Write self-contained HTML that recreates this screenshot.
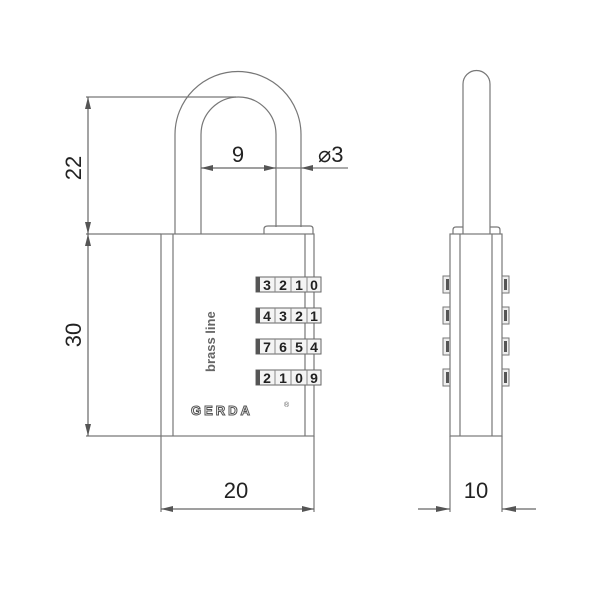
<!DOCTYPE html>
<html><head><style>
html,body{margin:0;padding:0;background:#fff;width:600px;height:600px;overflow:hidden}
svg{display:block}
text{font-family:"Liberation Sans",sans-serif;fill:#222}
</style></head><body>
<svg width="600" height="600" viewBox="0 0 600 600" xmlns="http://www.w3.org/2000/svg">
<defs>
<marker id="a" viewBox="0 0 12 6" refX="12" refY="3" markerWidth="12" markerHeight="6" orient="auto-start-reverse" markerUnits="userSpaceOnUse"><path d="M0,0 L12,3 L0,6 Z" fill="#555"/></marker>
</defs>
<g fill="none" stroke="#777" stroke-width="1.2">
<path d="M175,234 V134.5 A63,63 0 0 1 301,134.5 V227"/>
<path d="M201,234 V134.5 A37.5,37.5 0 0 1 276,134.5 V227"/>
<path d="M264,234 V229 Q264,226 268,226 H310 Q313,226 313,229 V234"/>
<rect x="161" y="234" width="153" height="202"/>
<line x1="173" y1="234" x2="173" y2="436"/>
<line x1="305" y1="234" x2="305" y2="436"/>
<line x1="161" y1="436" x2="161" y2="512"/>
<line x1="314" y1="436" x2="314" y2="512"/>
<line x1="161" y1="509" x2="314" y2="509" marker-start="url(#a)" marker-end="url(#a)" stroke="#666"/>
<line x1="86" y1="97" x2="236" y2="97"/>
<line x1="86" y1="234" x2="161" y2="234"/>
<line x1="86" y1="436" x2="161" y2="436"/>
<line x1="88" y1="97" x2="88" y2="234" marker-start="url(#a)" marker-end="url(#a)" stroke="#666"/>
<line x1="88" y1="234" x2="88" y2="436" marker-start="url(#a)" marker-end="url(#a)" stroke="#666"/>
<line x1="201" y1="168" x2="276" y2="168" marker-start="url(#a)" marker-end="url(#a)" stroke="#666"/>
<line x1="276" y1="168" x2="348" y2="168"/>
<path d="M301,168 L313,165 L313,171 Z" fill="#555" stroke="none"/>
<path d="M463,234 V84 A13.5,13.5 0 0 1 490,84 V234"/>
<path d="M453,234 V230 Q453,227 456,227 H463 M490,227 H497 Q500,227 500,230 V234"/>
<rect x="450" y="234" width="52" height="202"/>
<line x1="460" y1="234" x2="460" y2="436"/>
<line x1="492" y1="234" x2="492" y2="436"/>
<line x1="450" y1="436" x2="450" y2="512"/>
<line x1="502" y1="436" x2="502" y2="512"/>
<line x1="418" y1="509" x2="450" y2="509" stroke="#666"/>
<line x1="502" y1="509" x2="536" y2="509" stroke="#666"/>
<path d="M450,509 L436,506 L436,512 Z M502,509 L516,506 L516,512 Z" fill="#555" stroke="none"/>
</g>
<g fill="#eee" stroke="#777" stroke-width="1">
<rect x="443" y="276" width="7" height="17"/><rect x="443" y="307" width="7" height="17"/><rect x="443" y="338" width="7" height="17"/><rect x="443" y="369" width="7" height="17"/>
<rect x="502" y="276" width="7" height="17"/><rect x="502" y="307" width="7" height="17"/><rect x="502" y="338" width="7" height="17"/><rect x="502" y="369" width="7" height="17"/>
</g>
<g fill="#555">
<rect x="446" y="279" width="3" height="11"/><rect x="446" y="310" width="3" height="11"/><rect x="446" y="341" width="3" height="11"/><rect x="446" y="372" width="3" height="11"/>
<rect x="504" y="279" width="3" height="11"/><rect x="504" y="310" width="3" height="11"/><rect x="504" y="341" width="3" height="11"/><rect x="504" y="372" width="3" height="11"/>
</g>
<g stroke="#666" stroke-width="1" fill="#f4f4f4">
<rect x="256" y="277" width="65" height="15"/>
<rect x="256" y="308" width="65" height="15"/>
<rect x="256" y="339" width="65" height="15"/>
<rect x="256" y="370" width="65" height="15"/>
</g>
<g fill="#555">
<rect x="256" y="277" width="4" height="15"/><rect x="256" y="308" width="4" height="15"/><rect x="256" y="339" width="4" height="15"/><rect x="256" y="370" width="4" height="15"/>
</g>
<g stroke="#888" stroke-width="1">
<line x1="275" y1="277" x2="275" y2="292"/><line x1="291" y1="277" x2="291" y2="292"/><line x1="307" y1="277" x2="307" y2="292"/>
<line x1="275" y1="308" x2="275" y2="323"/><line x1="291" y1="308" x2="291" y2="323"/><line x1="307" y1="308" x2="307" y2="323"/>
<line x1="275" y1="339" x2="275" y2="354"/><line x1="291" y1="339" x2="291" y2="354"/><line x1="307" y1="339" x2="307" y2="354"/>
<line x1="275" y1="370" x2="275" y2="385"/><line x1="291" y1="370" x2="291" y2="385"/><line x1="307" y1="370" x2="307" y2="385"/>
</g>
<g font-size="14" font-weight="bold" text-anchor="middle" style="fill:#555">
<text x="267" y="290">3</text><text x="283" y="290">2</text><text x="299" y="290">1</text><text x="314" y="290">0</text>
<text x="267" y="321">4</text><text x="283" y="321">3</text><text x="299" y="321">2</text><text x="314" y="321">1</text>
<text x="267" y="352">7</text><text x="283" y="352">6</text><text x="299" y="352">5</text><text x="314" y="352">4</text>
<text x="267" y="383">2</text><text x="283" y="383">1</text><text x="299" y="383">0</text><text x="314" y="383">9</text>
</g>
<text transform="translate(215,372) rotate(-90)" font-size="13" font-weight="bold" style="fill:#666">brass line</text>
<text x="191" y="415" font-size="13" font-weight="bold" letter-spacing="3" style="fill:none;stroke:#555;stroke-width:1">GERDA</text>
<text x="284" y="407" font-size="7" style="fill:#555">®</text>
<text x="236" y="498" font-size="22" text-anchor="middle">20</text>
<text x="476" y="498" font-size="22" text-anchor="middle">10</text>
<text x="238" y="162" font-size="22" text-anchor="middle">9</text>
<text x="318" y="162" font-size="22">⌀3</text>
<text transform="translate(81,168) rotate(-90)" font-size="22" text-anchor="middle">22</text>
<text transform="translate(81,335) rotate(-90)" font-size="22" text-anchor="middle">30</text>
</svg>
</body></html>
